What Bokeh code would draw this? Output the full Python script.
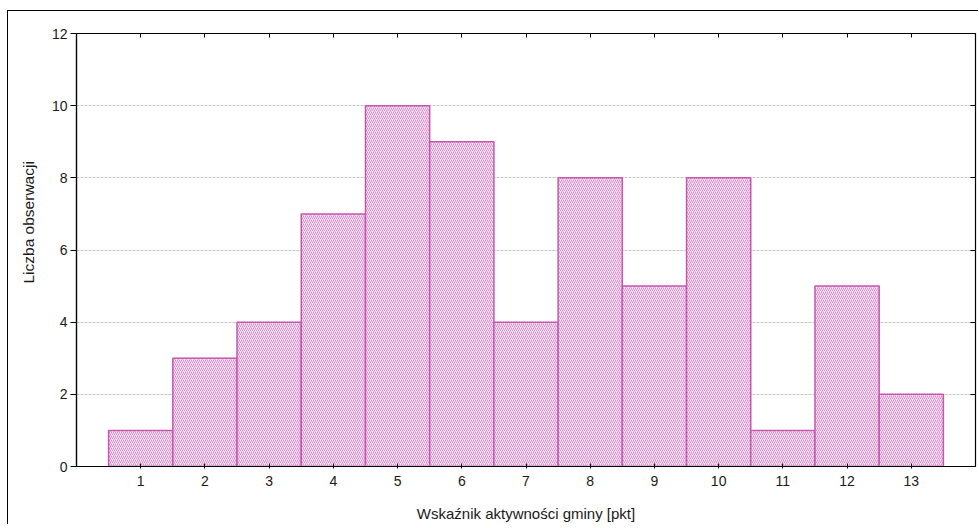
from bokeh.plotting import figure
from bokeh.models import ColumnDataSource, LinearAxis, FixedTicker, Range1d, Title
from bokeh.embed import file_html
from bokeh.resources import INLINE

# data
categories = [1, 2, 3, 4, 5, 6, 7, 8, 9, 10, 11, 12, 13]
counts = [1, 3, 4, 7, 10, 9, 4, 8, 5, 8, 1, 5, 2]
y_ticks = [0, 2, 4, 6, 8, 10, 12]
x_title = "Wskaźnik aktywności gminy [pkt]"
y_title = "Liczba obserwacji"

FONT = "Liberation Sans"

src = ColumnDataSource(dict(x=categories, top=counts))

p = figure(
    width=971, height=517,
    frame_width=899, frame_height=433,
    x_range=Range1d(0, 14), y_range=Range1d(0, 12),
    output_backend="svg", toolbar_location=None,
    min_border_left=68, min_border_top=22, min_border_right=3, min_border_bottom=50,
)
p.styles = {"margin-top": "10px", "margin-left": "7px",
            "border-left": "1px solid black", "border-top": "1px solid black"}
p.outline_line_color = "black"
p.outline_line_width = 1.2
p.background_fill_color = "white"
p.border_fill_color = "white"

p.vbar(x="x", top="top", width=1.0, bottom=0, source=src,
       fill_color="#f8e8f5", line_color="#c558ae", line_width=1.5,
       hatch_pattern="right_diagonal_line", hatch_color="#dc8ccd",
       hatch_scale=4, hatch_weight=1.0)

# grid
p.xgrid.visible = False
p.ygrid.ticker = FixedTicker(ticks=y_ticks)
p.ygrid.grid_line_color = "#c4c4c4"
p.ygrid.grid_line_dash = "3 1"
p.ygrid.grid_line_width = 1
p.ygrid.level = "underlay"

# main axes
xa = p.xaxis[0]
xa.ticker = FixedTicker(ticks=categories)
ya = p.yaxis[0]
ya.ticker = FixedTicker(ticks=y_ticks)
for ax in (xa, ya):
    ax.minor_tick_line_color = None
    ax.axis_line_color = "black"
    ax.axis_line_width = 1.2
    ax.major_tick_line_color = "black"
    ax.major_label_text_font = FONT
    ax.major_label_text_font_size = "14px"
    ax.major_label_text_color = "#1a1a1a"
xa.major_tick_in = 3
xa.major_tick_out = 2
xa.major_label_standoff = 7
xa.axis_label = x_title
xa.axis_label_text_font = FONT
xa.axis_label_text_font_size = "15px"
xa.axis_label_text_font_style = "normal"
xa.axis_label_text_color = "#1a1a1a"
xa.axis_label_standoff = 16
ya.major_tick_in = 0
ya.major_tick_out = 6
ya.major_label_standoff = 3

# y title placed as a side title, shifted above the frame centre like the reference
ytitle = Title(text=y_title, align="left", vertical_align="top", offset=183, standoff=20,
               text_font=FONT, text_font_size="15.5px", text_font_style="normal",
               text_color="#1a1a1a")
p.add_layout(ytitle, "left")

# top / right axes with inward ticks only
top_ax = LinearAxis(ticker=FixedTicker(ticks=categories), major_tick_in=4, major_tick_out=0,
                    minor_tick_line_color=None, axis_line_color=None,
                    major_label_text_color=None, major_label_text_font_size="0px",
                    major_label_standoff=0)
right_ax = LinearAxis(ticker=FixedTicker(ticks=y_ticks), major_tick_in=5, major_tick_out=0,
                      minor_tick_line_color=None, axis_line_color=None,
                      major_label_text_color=None, major_label_text_font_size="0px",
                      major_label_standoff=0)
p.add_layout(top_ax, "above")
p.add_layout(right_ax, "right")

open("out.html", "w").write(file_html(p, INLINE))
